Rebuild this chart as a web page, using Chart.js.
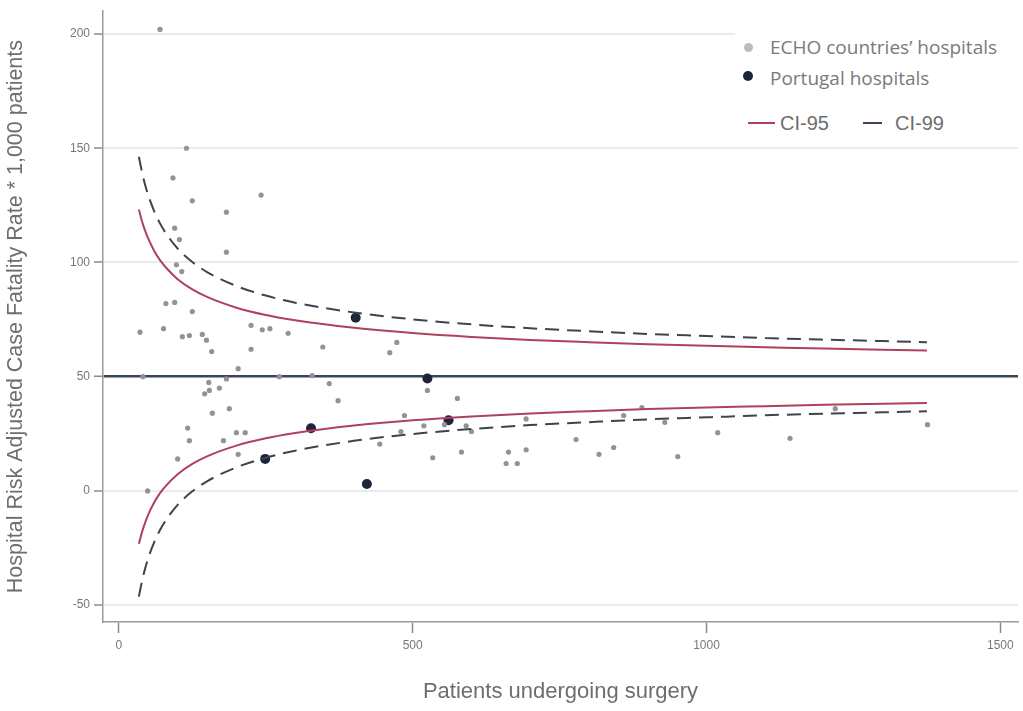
<!DOCTYPE html>
<html>
<head>
<meta charset="utf-8">
<script src="https://cdn.jsdelivr.net/npm/chart.js@4.4.0/dist/chart.umd.min.js"></script>
<style>
  body { margin: 0; background: #fff; }
  #wrap { position: relative; width: 1023px; height: 711px; }
  #legend { position: absolute; left: 735px; top: 26px; width: 285px; height: 112px; background: #fff; }
  .dot { position: absolute; border-radius: 50%; }
  .lab { position: absolute; font-family: "Open Sans", sans-serif; font-size: 19px; line-height: 24px; color: #7a7a7a; white-space: nowrap; }
  .ci { position: absolute; font-family: "Liberation Sans", Arial, sans-serif; font-size: 20px; line-height: 24px; color: #6e6e6e; white-space: nowrap; }
  .ln { position: absolute; height: 0; }
</style>
</head>
<body>
<div id="wrap">
  <canvas id="myChart"></canvas>
  <div id="legend">
    <div class="dot" style="left:9px;top:17px;width:9px;height:9px;background:#bdbdbd"></div>
    <div class="lab" style="left:35px;top:9px">ECHO countries’ hospitals</div>
    <div class="dot" style="left:8px;top:45px;width:10px;height:10px;background:#1d2638"></div>
    <div class="lab" style="left:35px;top:40px">Portugal hospitals</div>
    <div class="ln" style="left:13px;top:96px;width:27px;border-top:2px solid #b0405f"></div>
    <div class="ci" style="left:45px;top:85px">CI-95</div>
    <div class="ln" style="left:128px;top:96px;width:19px;border-top:2.5px solid #3d4451"></div>
    <div class="ci" style="left:160px;top:85px">CI-99</div>
  </div>
</div>
<script>
// ECHO hospitals (patients, rate)
const echoN = [70, 115, 92, 125, 183, 242, 95, 103, 183, 98, 107, 80, 95, 125, 36, 76, 108, 120, 142, 149,
  158, 225, 244, 257, 288, 225, 347, 461, 473, 203, 41, 153, 183, 146, 154, 171, 358, 373, 159, 188,
  117, 120, 200, 215, 178, 203, 100, 49, 525, 576, 486, 519, 554, 591, 600, 480, 444, 534, 583, 663,
  659, 678, 693, 693, 778, 817, 842, 859, 890, 929, 951, 1019, 1142, 1219, 1376, 273, 329];
const echoRate = [202, 150, 137, 127, 122, 129.5, 115, 110, 104.5, 99, 96, 82, 82.5, 78.5, 69.5, 71, 67.5, 68, 68.5, 66,
  61, 72.5, 70.5, 71, 69, 62, 63, 60.5, 65, 53.5, 50, 47.5, 49, 42.5, 44, 45, 47, 39.5, 34, 36,
  27.5, 22, 25.5, 25.5, 22, 16, 14, 0, 44, 40.5, 33, 28.5, 29, 28.5, 26, 26, 20.5, 14.5, 17, 17,
  12, 12, 18, 31.5, 22.5, 16, 19, 33, 36.5, 30, 15, 25.5, 23, 36, 29, 50, 50.5];

// Portugal hospitals
const ptN = [403, 249, 327, 422, 525, 561];
const ptRate = [75.8, 14, 27.4, 3, 49.2, 30.9];

// confidence limits read along the funnel
const ciN = [34, 40, 45, 50, 60, 70, 80, 100, 125, 150, 200, 250, 300, 400, 500, 600, 700, 800, 900, 1000, 1100, 1200, 1300, 1375];
const up95 = [123.2, 117.5, 113.7, 110.4, 105.1, 101.0, 97.8, 92.7, 88.2, 84.9, 80.2, 77.0, 74.7, 71.4, 69.1, 67.4, 66.1, 65.1, 64.2, 63.5, 62.9, 62.3, 61.8, 61.5];
const lo95 = [-23.2, -17.5, -13.7, -10.4, -5.1, -1.0, 2.2, 7.3, 11.8, 15.1, 19.8, 23.0, 25.3, 28.6, 30.9, 32.6, 33.9, 34.9, 35.8, 36.5, 37.1, 37.7, 38.2, 38.5];
const up99 = [146.3, 138.8, 133.7, 129.4, 122.5, 117.1, 112.8, 106.1, 100.2, 95.8, 89.7, 85.5, 82.4, 78.1, 75.1, 72.9, 71.2, 69.9, 68.7, 67.8, 66.9, 66.2, 65.6, 65.1];
const lo99 = [-46.3, -38.8, -33.7, -29.4, -22.5, -17.1, -12.8, -6.1, -0.2, 4.2, 10.3, 14.5, 17.6, 21.9, 24.9, 27.1, 28.8, 30.1, 31.3, 32.2, 33.1, 33.8, 34.4, 34.9];

const meanRate = 50;
const xTicks = [0, 500, 1000, 1500];
const yTicks = [-50, 0, 50, 100, 150, 200];

const pts = (xs, ys) => xs.map((x, i) => ({ x: x, y: ys[i] }));

Chart.defaults.font.family = "'Liberation Sans', Arial, sans-serif";
Chart.defaults.color = '#777';

function ciLine(data, color, dash) {
    return {
        type: 'line',
        data: data,
        borderColor: color,
        borderWidth: 2,
        borderDash: dash,
        pointRadius: 0,
        fill: false,
        cubicInterpolationMode: 'monotone'
    };
}

new Chart("myChart", {
    type: "scatter",
    data: {
        datasets: [
            ciLine(pts(ciN, up99), '#3d4451', [14, 8]),
            ciLine(pts(ciN, lo99), '#3d4451', [14, 8]),
            ciLine(pts(ciN, up95), '#b0405f', []),
            ciLine(pts(ciN, lo95), '#b0405f', []),
            {
                label: "ECHO countries' hospitals",
                data: pts(echoN, echoRate),
                backgroundColor: '#939393',
                borderWidth: 0,
                pointRadius: 2.6
            }, {
                label: 'Portugal hospitals',
                data: pts(ptN, ptRate),
                backgroundColor: '#1d2638',
                borderWidth: 0,
                pointRadius: 5
            }]
    },
    options: {
        responsive: true,
        maintainAspectRatio: false,
        animation: false,
        layout: { padding: { top: 8, right: 3, left: 0, bottom: 0 } },
        plugins: { legend: { display: false }, tooltip: { enabled: false } },
        scales: {
            x: {
                type: 'linear',
                min: -27,
                max: 1530,
                afterBuildTicks: function (axis) { axis.ticks = xTicks.map(v => ({ value: v })); },
                afterFit: function (scale) { scale.height = 89; },
                grid: { drawOnChartArea: false, drawTicks: true, tickLength: 11, tickColor: '#8a8a8a', tickWidth: 1.5 },
                border: { color: '#9a9a9a', width: 1.5 },
                ticks: { font: { size: 12 }, color: '#777', padding: 5, callback: v => String(v) },
                title: {
                    display: true,
                    text: 'Patients undergoing surgery',
                    font: { size: 22 },
                    color: '#6e6e6e',
                    padding: { top: 0, bottom: 6 }
                }
            },
            y: {
                type: 'linear',
                min: -57.4,
                max: 210,
                afterBuildTicks: function (axis) { axis.ticks = yTicks.map(v => ({ value: v })); },
                afterFit: function (scale) { scale.width = 103; },
                grid: {
                    color: ctx => ctx.tick && ctx.tick.value === meanRate ? '#3b4657' : '#ebebeb',
                    lineWidth: ctx => ctx.tick && ctx.tick.value === meanRate ? 2.5 : 2,
                    tickColor: '#8a8a8a',
                    tickLength: 9,
                    tickWidth: 1.5
                },
                border: { color: '#9a9a9a', width: 1.5 },
                ticks: { font: { size: 12 }, color: '#777', padding: 4, callback: v => String(v) },
                title: {
                    display: true,
                    text: 'Hospital Risk Adjusted Case Fatality Rate * 1,000 patients',
                    font: { size: 21.5 },
                    color: '#6e6e6e',
                    padding: { top: 3, bottom: 0 }
                }
            }
        }
    }
});
</script>
</body>
</html>
